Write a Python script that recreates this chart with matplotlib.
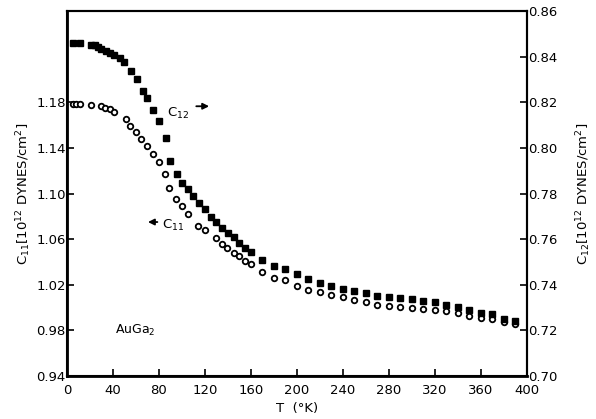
import matplotlib.pyplot as plt

# C11 (open circles, left axis)
t_c11 = [5, 8, 11, 21, 30, 33, 37, 41, 51, 55, 60, 64, 70, 75, 80, 85, 89, 95,
         100, 105, 114, 120, 130, 135, 139, 145, 150, 155, 160, 170, 180, 190,
         200, 210, 220, 230, 240, 250, 260, 270, 280, 290, 300, 310, 320, 330,
         340, 350, 360, 370, 380, 390]
c11 = [1.1785, 1.1785, 1.1783, 1.178, 1.1763, 1.1748, 1.1737, 1.1713, 1.165,
       1.1589, 1.1539, 1.1481, 1.1417, 1.1345, 1.1274, 1.1168, 1.1046, 1.0954,
       1.0887, 1.082, 1.0713, 1.0684, 1.0606, 1.0559, 1.0519, 1.0481, 1.0448,
       1.0406, 1.038, 1.0316, 1.0263, 1.0243, 1.0191, 1.0157, 1.0139, 1.0113,
       1.009, 1.0067, 1.0052, 1.0026, 1.0017, 1.0009, 0.9997, 0.9989, 0.9983,
       0.9968, 0.9954, 0.993, 0.991, 0.9898, 0.9872, 0.9852]

# C12 (filled squares, right axis)
t_c12 = [5, 11, 21, 24, 27, 30, 34, 37, 41, 46, 50, 56, 61, 66, 70, 75, 80, 86,
         90, 96, 100, 105, 110, 115, 120, 125, 130, 135, 140, 145, 150, 155, 160,
         170, 180, 190, 200, 210, 220, 230, 240, 250, 260, 270, 280, 290, 300,
         310, 320, 330, 340, 350, 360, 370, 380, 390]
c12 = [0.8461, 0.8461, 0.8452, 0.845, 0.8444, 0.8435, 0.8426, 0.8417, 0.8407,
       0.8394, 0.8377, 0.8337, 0.8301, 0.8249, 0.8217, 0.8166, 0.8119, 0.8045,
       0.7944, 0.7886, 0.7845, 0.7818, 0.7789, 0.776, 0.7731, 0.7698, 0.7676,
       0.7647, 0.7626, 0.7608, 0.7582, 0.7561, 0.7544, 0.7509, 0.7482, 0.747,
       0.7446, 0.7424, 0.7409, 0.7395, 0.7381, 0.7373, 0.7363, 0.7349, 0.7347,
       0.7341, 0.7336, 0.7329, 0.7323, 0.7311, 0.7301, 0.7289, 0.7277, 0.727,
       0.7248, 0.7241]

x_ticks = list(range(0, 401, 40))
left_ticks = [0.94, 0.98, 1.02, 1.06, 1.10, 1.14, 1.18]
right_ticks = [0.70, 0.72, 0.74, 0.76, 0.78, 0.80, 0.82, 0.84, 0.86]

plt.rcParams['font.family'] = 'DejaVu Sans'
plt.rcParams['font.size'] = 9.5

fig = plt.figure(figsize=(5.96, 4.19), dpi=100)
ax = fig.add_axes([0.1124, 0.1026, 0.7718, 0.8711])
ax2 = ax.twinx()

ax.plot(t_c11, c11, 'o', mfc='white', mec='black', ms=4, mew=1.3, ls='none')
ax2.plot(t_c12, c12, 's', color='black', ms=4.8, ls='none')

ax.set_xlim(0, 400)
ax.set_ylim(0.94, 1.26)
ax2.set_ylim(0.70, 0.86)
ax.set_xticks(x_ticks)
ax.set_yticks(left_ticks)
ax.set_yticklabels([f'{v:.2f}' for v in left_ticks])
ax2.set_yticks(right_ticks)
ax2.set_yticklabels([f'{v:.2f}' for v in right_ticks])

ax.tick_params(direction='in', length=5, width=1.2)
ax.tick_params(axis='x', pad=6)
ax.tick_params(axis='y', pad=1)
ax2.tick_params(direction='in', length=5, width=1.2, pad=1)

for a in (ax, ax2):
    for s in a.spines.values():
        s.set_linewidth(1.5)
ax.spines['left'].set_linewidth(2)
ax.spines['bottom'].set_linewidth(2)

ax.set_xlabel('T  (°K)', labelpad=3)
ax.set_ylabel(r'C$_{11}$[10$^{12}$ DYNES/cm$^2$]', labelpad=2)
ax2.set_ylabel(r'C$_{12}$[10$^{12}$ DYNES/cm$^2$]', labelpad=12)

ax.text(87, 1.17, r'C$_{12}$', ha='left', va='center')
ax.annotate('', xy=(126, 1.1765), xytext=(110, 1.1765),
            arrowprops=dict(arrowstyle='-|>', color='black', lw=1.3, mutation_scale=9))
ax.text(83, 1.072, r'C$_{11}$', ha='left', va='center')
ax.annotate('', xy=(68, 1.075), xytext=(81, 1.075),
            arrowprops=dict(arrowstyle='-|>', color='black', lw=1.3, mutation_scale=9))
ax.text(42, 0.98, r'AuGa$_2$', ha='left', va='center', fontsize=9)

fig.savefig('out.png', dpi=100)
